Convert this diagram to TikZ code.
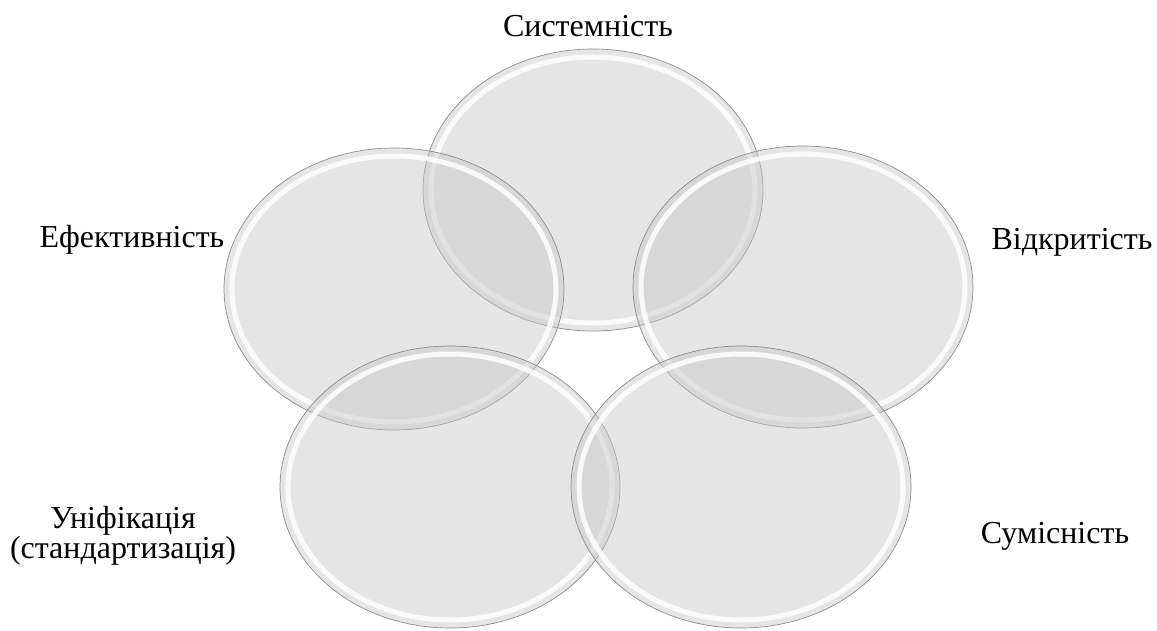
\documentclass[tikz,border=0pt]{standalone}
\usepackage{fontspec}
\setmainfont{Liberation Serif}
\usetikzlibrary{positioning,shapes.geometric}
\definecolor{PetalFill}{RGB}{198,198,198}
\definecolor{PetalEdge}{RGB}{140,140,140}
\tikzset{
  petal/.style={ellipse,minimum width=340pt,minimum height=282pt,inner sep=0pt,
    fill=PetalFill,fill opacity=.46,draw=PetalEdge,line width=.7pt},
  rim/.style={draw=white,line width=5pt,draw opacity=.85},
  lbl/.style={font=\fontsize{32}{30}\selectfont,align=center,inner sep=0pt}
}
\newcommand\petal[2]{%
  \node[petal] (#1) at (#2) {};
  \draw[rim] (#1.center) ellipse (162pt and 133pt);}

\begin{document}
\begin{tikzpicture}[x=1pt,y=-1pt]
  \useasboundingbox (0,0) rectangle (1157,631);
  % five petals
  \petal{sys}{593,190}
  \petal{vid}{803,287}
  \petal{eff}{394,289}
  \petal{uni}{450,487}
  \petal{sum}{741,487}

  % labels
  \node[lbl,above=12pt of sys,xshift=-5pt] (sysl) {Системність};
  \node[lbl] (effl) at (132,240) {Ефективність};
  \node[lbl] (vidl) at (1072,242) {Відкритість};
  \node[lbl] (unil) at (123,536) {Уніфікація\\(стандартизація)};
  \node[lbl] (suml) at (1055,536) {Сумісність};
\end{tikzpicture}
\end{document}
